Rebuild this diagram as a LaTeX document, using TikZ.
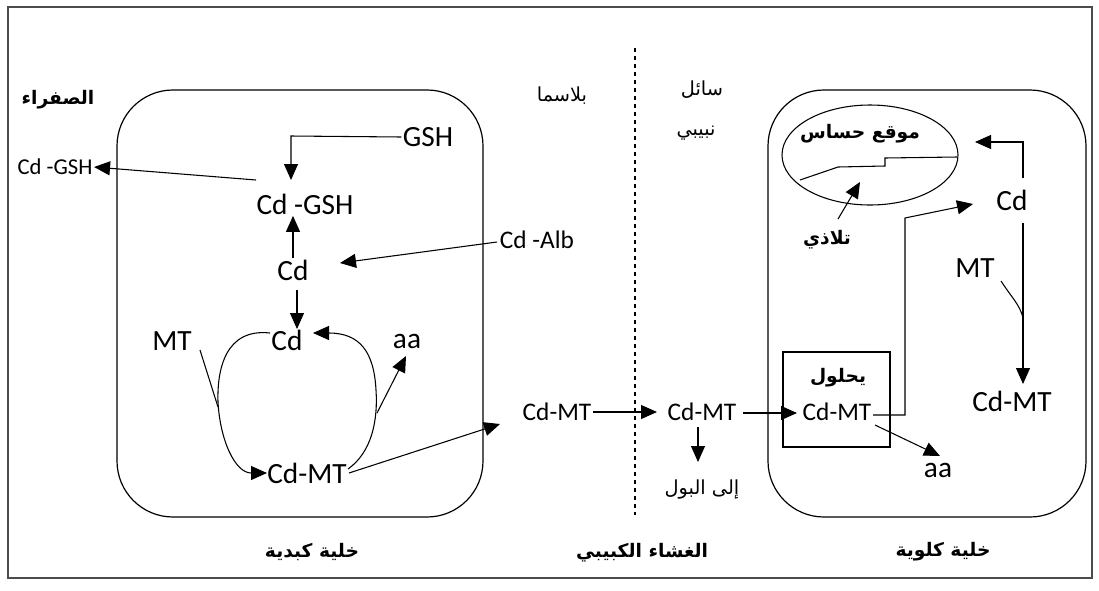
\documentclass[tikz,border=0pt]{standalone}
\usepackage{fontspec}
\setmainfont{Carlito}
\newfontfamily\arf[Script=Arabic]{DejaVu Sans}
\TeXXeTstate=1
\usetikzlibrary{arrows.meta,shapes.geometric}
\newcommand\AR[1]{{\arf\beginR #1\endR}}
\newcommand\ARB[1]{{\arf\bfseries\beginR #1\endR}}
\begin{document}
\begin{tikzpicture}[x=0.75pt,y=-0.75pt,
  lbig/.style={font=\fontsize{22}{24}\selectfont, inner sep=1pt},
  lmid/.style={font=\fontsize{19}{21}\selectfont, inner sep=1pt},
  lsm/.style={font=\fontsize{17}{19}\selectfont, inner sep=1pt},
  arlab/.style={font=\fontsize{14.5}{16}\selectfont, inner sep=1pt},
  arbold/.style={font=\fontsize{14}{16}\selectfont, inner sep=1pt},
  cell/.style={draw, line width=0.9pt, rounded corners=42pt},
  conn/.style={line width=0.8pt},
  arr/.style={conn, -{Triangle[length=12pt,width=10.5pt]}}]
\useasboundingbox (0,0) rectangle (1099,590);
\draw[line width=0.8pt, black!70] (8,7) rectangle (1092,578);
% cells
\draw[cell] (117,90) rectangle (483,517);
\draw[cell] (768,90) rectangle (1086,517);
\draw[conn, dashed] (635,48) -- (635,515);
% labels top
\node[arbold] (bile) at (58,100) {\ARB{الصفراء}};
\node[arlab] (plasma) at (562,96) {\AR{بلاسما}};
\node[arlab] (fluid1) at (702,90) {\AR{سائل}};
\node[arlab] (fluid2) at (696,133) {\AR{نبيبي}};
% bottom labels
\node[arbold] (liver) at (312,552) {\ARB{خلية كبدية}};
\node[arbold] (memb) at (642,553) {\ARB{الغشاء الكبيبي}};
\node[arbold] (kidney) at (943,552) {\ARB{خلية كلوية}};
% liver cell nodes
\node[lsm] (cdgshout) at (55,167) {Cd -GSH};
\node[lbig] (gsh) at (428,137) {GSH};
\node[lbig] (cdgsh) at (305,204) {Cd -GSH};
\node[lbig] (cda) at (293,270) {Cd};
\node[lmid] (cdalb) at (537,240) {Cd -Alb};
\node[lbig] (cdb) at (287,340) {Cd};
\node[lbig] (mta) at (172,341) {MT};
\node[lbig] (aaa) at (407,341) {aa};
\node[lbig] (cdmta) at (307,473) {Cd-MT};
% connectors liver
\coordinate (g1) at (291,136);
\coordinate (g2) at (291,180);
\draw[arr] (gsh.west) -- (g1) -- (g2);
\coordinate (b1) at (256,180);
\draw[arr] (b1) -- (cdgshout.east);
\draw[arr] (cda.north) -- (cdgsh.south -| cda.north);
\coordinate (c1) at (297,290);
\coordinate (c2) at (297,329);
\draw[arr] (c1) -- (c2);
\coordinate (al1) at (497,242);
\coordinate (al2) at (340,263);
\draw[arr] (al1) -- (al2);
\coordinate (la) at (270,333);
\draw[arr] (la) .. controls (225,328) and (217,370) .. (218,402)
  .. controls (220,440) and (235,473) .. (267,473);
\coordinate (m1) at (200,350);
\coordinate (m2) at (218,407);
\draw[conn] (m1) -- (m2);
\coordinate (ra) at (348,469);
\coordinate (rb) at (313,333);
\draw[arr] (ra) .. controls (372,452) and (378,420) .. (376,390)
  .. controls (374,352) and (360,333) .. (rb);
\coordinate (aa1s) at (377,413);
\draw[arr] (aa1s) -- (406,356);
% plasma / tubular
\node[lmid] (cdmtp) at (557,412) {Cd-MT};
\node[lmid] (cdmtt) at (702,412) {Cd-MT};
\node[arlab] (urine) at (702,490) {\AR{إلى البول}};
\coordinate (o1) at (349,473);
\draw[arr] (o1) -- (500,424);
\draw[arr] (593,412) -- (657,412);
\draw[arr] (698,427) -- (698,462);
% kidney cell
\node[draw, line width=0.8pt, minimum width=80.25pt, minimum height=71.25pt] (box) at (836.5,399.5) {};
\node[arbold] (yahlul) at (838,378) {\ARB{يحلول}};
\node[lmid] (cdmtb) at (837,412) {Cd-MT};
\draw[arr] (743,413) -- (797,413);
\coordinate (k0) at (873,415);
\coordinate (k1) at (905,415);
\coordinate (k2) at (905,218);
\coordinate (k3) at (973,204);
\draw[arr] (k0) -- (k1) -- (k2) -- (k3);
\node[lbig] (aab) at (938,470) {aa};
\coordinate (a2s) at (875,425);
\draw[arr] (a2s) -- (940,456);
\node[draw, ellipse, line width=0.8pt, minimum width=132pt, minimum height=75pt, inner sep=0pt] (site) at (870,155) {};
\node[arbold] (mawqi) at (860,134) {\ARB{موقع حساس}};
\draw[conn] (800,180) -- (838,167) -- (885,166) -- (885,158) -- (957,157);
\node[arbold] (tala) at (827,240) {\ARB{تلاذي}};
\coordinate (t1) at (838,219);
\draw[arr] (t1) -- (860,182);
\node[lbig] (cdr) at (1012,200) {Cd};
\node[lbig] (mtr) at (975,268) {MT};
\node[lbig] (cdmtr) at (1012,401) {Cd-MT};
\coordinate (r0) at (1023,178);
\coordinate (r1) at (1023,142);
\coordinate (r2) at (975,142);
\draw[arr] (r0) -- (r1) -- (r2);
\coordinate (r3) at (1023,223);
\coordinate (r4) at (1023,384);
\draw[arr] (r3) -- (r4);
\draw[conn] (1001,281) .. controls (1012,298) and (1020,305) .. (1023,318);
\end{tikzpicture}
\end{document}
